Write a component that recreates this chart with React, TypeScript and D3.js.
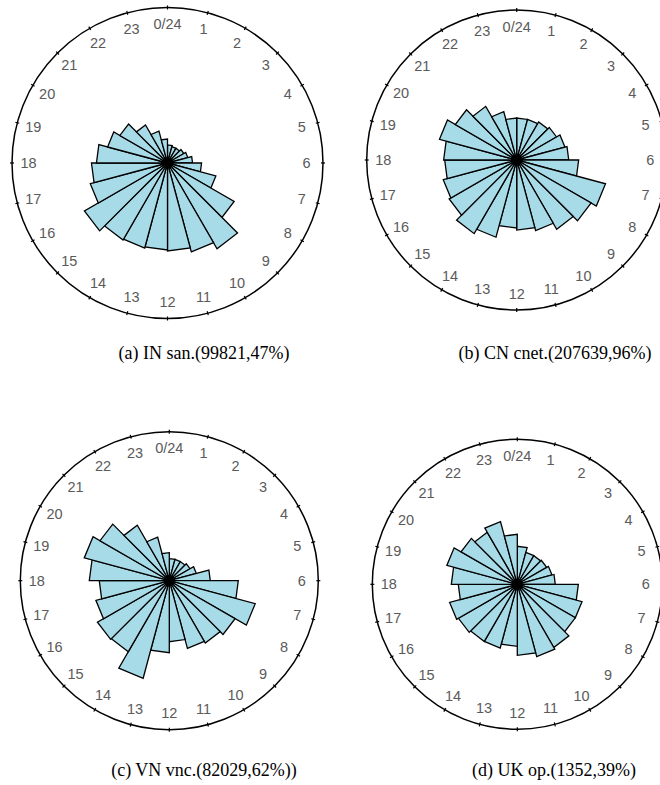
import React from "react";
import * as d3 from "d3";

// Hour-of-day tick labels around each dial
const hourLabels = [
  "0/24", "1", "2", "3", "4", "5", "6", "7", "8", "9", "10", "11",
  "12", "13", "14", "15", "16", "17", "18", "19", "20", "21", "22", "23",
];

// Hourly activity per bin [h, h+1), as % of the dial radius
const inSanValues = [11.6, 10.9, 10.9, 12.2, 13.5, 16.1, 21.9, 32.2, 49.5, 63.7, 59.2, 56.6,
  55.9, 56.6, 57.2, 61.7, 51.4, 48.9, 45.7, 39.9, 35.4, 28.3, 21.2, 15.4];
const cnCnetValues = [28, 28, 29.3, 30.7, 33.3, 34.7, 41.3, 61.3, 57.3, 53.3, 48.7, 46.7,
  45.3, 53.3, 56.7, 52, 50.7, 48, 48.7, 53.3, 47.3, 41.3, 33.3, 28];
const vnVncValues = [14.8, 14.8, 14.8, 16.1, 18.8, 27.5, 46.3, 59.7, 51, 48.3, 47, 40.9,
  48.3, 67.8, 55, 55.7, 51, 47, 53.7, 59.1, 53.7, 43, 30.2, 18.8];
const ukOpValues = [26.2, 22.8, 22.8, 23.4, 24.8, 26.2, 42.1, 46.2, 46.2, 50.3, 51.7, 49,
  42.8, 45.5, 45.5, 46.9, 48.3, 40.7, 45.5, 50.3, 44.8, 41.4, 44.8, 34.5];

const captions = [
  "(a) IN san.(99821,47%)",
  "(b) CN cnet.(207639,96%)",
  "(c) VN vnc.(82029,62%))",
  "(d) UK op.(1352,39%)",
];
const seriesList = [inSanValues, cnCnetValues, vnVncValues, ukOpValues];

// Dial placement on the page
const layout = [
  { cx: 167.5, cy: 163, r: 155.5, capX: 204, capY: 359 },
  { cx: 516.7, cy: 160, r: 150, capX: 555, capY: 359 },
  { cx: 169.3, cy: 580.7, r: 149, capX: 204, capY: 776 },
  { cx: 517.3, cy: 584.3, r: 145, capX: 554, capY: 776 },
];

const WIDTH = 660;
const HEIGHT = 785;
const FILL = "#a8dbe8";

const angle = d3.scaleLinear().domain([0, 24]).range([0, 2 * Math.PI]);

function Rose({ values, box, caption }) {
  const radius = d3.scaleLinear().domain([0, 100]).range([0, box.r]);
  const wedge = d3
    .lineRadial()
    .angle((d) => d[0])
    .radius((d) => d[1])
    .curve(d3.curveLinearClosed);

  const pt = (h, rr) => {
    const a = angle(h);
    return [rr * Math.sin(a), -rr * Math.cos(a)];
  };

  return (
    <g>
      <g transform={`translate(${box.cx},${box.cy})`}>
        <circle r={box.r} fill="none" stroke="#000" strokeWidth={1.5} />
        {hourLabels.map((_, h) => {
          const [x1, y1] = pt(h, box.r - 2);
          const [x2, y2] = pt(h, box.r + 2);
          return <line key={"t" + h} x1={x1} y1={y1} x2={x2} y2={y2} stroke="#000" strokeWidth={1.2} />;
        })}
        {hourLabels.map((lab, h) => {
          const [x, y] = pt(h, box.r - 16.5);
          return (
            <text
              key={"l" + h}
              x={x}
              y={y}
              textAnchor="middle"
              dominantBaseline="central"
              fontFamily="'Liberation Sans', Arial, sans-serif"
              fontSize={14.5}
              fill="#5a5a5a"
            >
              {lab}
            </text>
          );
        })}
        {values.map((v, h) => (
          <path
            key={"w" + h}
            d={wedge([
              [angle(h), 0],
              [angle(h), radius(v)],
              [angle(h + 1), radius(v)],
            ])}
            fill={FILL}
            stroke="#000"
            strokeWidth={1.3}
            strokeLinejoin="miter"
          />
        ))}
        <circle r={5.5} fill="#000" />
      </g>
      <text
        x={box.capX}
        y={box.capY}
        textAnchor="middle"
        fontFamily="'Liberation Serif', 'Times New Roman', serif"
        fontSize={18}
        fill="#000"
      >
        {caption}
      </text>
    </g>
  );
}

export default function App() {
  return (
    <svg
      width={WIDTH}
      height={HEIGHT}
      style={{ position: "absolute", left: 0, top: 0, background: "#fff" }}
    >
      <rect width={WIDTH} height={HEIGHT} fill="#fff" />
      {seriesList.map((vals, i) => (
        <Rose key={i} values={vals} box={layout[i]} caption={captions[i]} />
      ))}
    </svg>
  );
}
